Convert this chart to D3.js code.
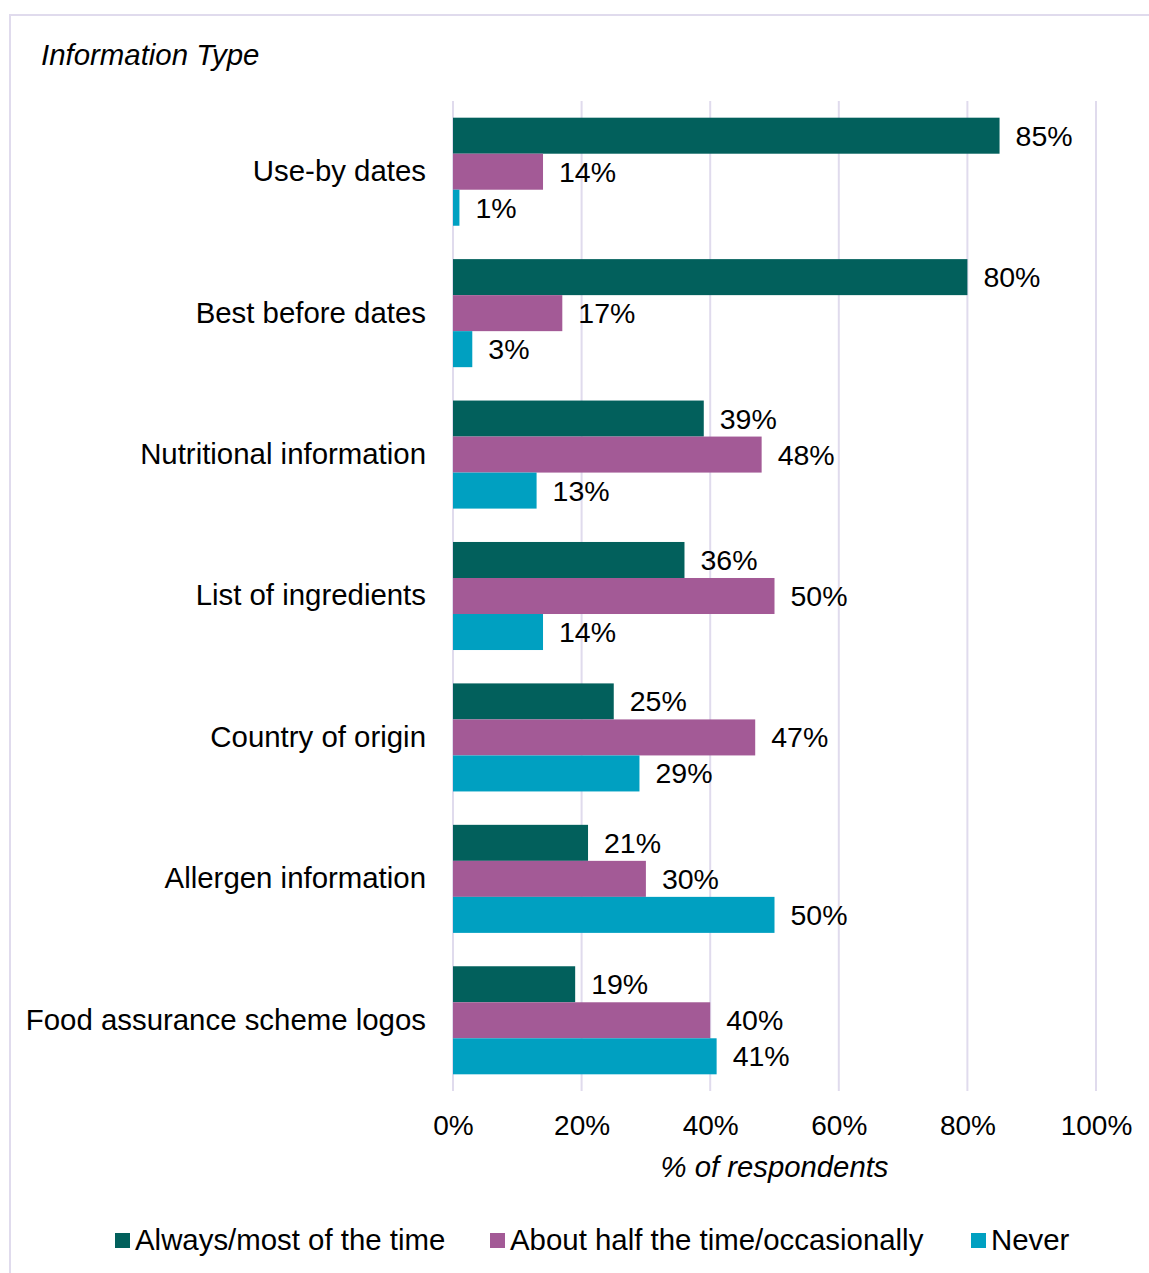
<!DOCTYPE html>
<html>
<head>
<meta charset="utf-8">
<script src="https://cdn.jsdelivr.net/npm/d3@7"></script>
<style>
  html, body { margin: 0; padding: 0; background: #fff; }
  svg { display: block; font-family: "Liberation Sans", Arial, sans-serif; }
</style>
</head>
<body>
<svg id="chart" width="1149" height="1273"></svg>
<script>
// Information types asked about
const categories = [
  "Use-by dates",
  "Best before dates",
  "Nutritional information",
  "List of ingredients",
  "Country of origin",
  "Allergen information",
  "Food assurance scheme logos"
];

// Series names and their values (% of respondents), one per category
const seriesNames = ["Always/most of the time", "About half the time/occasionally", "Never"];
const alwaysValues = [85, 80, 39, 36, 25, 21, 19];
const halfValues   = [14, 17, 48, 50, 47, 30, 40];
const neverValues  = [1, 3, 13, 14, 29, 50, 41];
const tickValues   = [0, 20, 40, 60, 80, 100];

const colors = ["#02605c", "#a35a96", "#00a0c1"];

const seriesValues = [alwaysValues, halfValues, neverValues];
const rows = categories.map((c, i) => ({
  category: c,
  values: seriesNames.map((s, j) => ({ key: s, value: seriesValues[j][i] }))
}));

const svg = d3.select("#chart");

// Outer chart frame
svg.append("rect")
  .attr("x", 10).attr("y", 15)
  .attr("width", 1160).attr("height", 1300)
  .attr("fill", "none")
  .attr("stroke", "#e0dbed")
  .attr("stroke-width", 2);

const plot = { left: 453, right: 1096, top: 101, bottom: 1091 };

const x = d3.scaleLinear().domain([0, 100]).range([plot.left, plot.right]);
const y = d3.scaleBand().domain(categories).range([plot.top, plot.bottom])
  .paddingInner(0.236).paddingOuter(0.118);
const ySub = d3.scaleBand().domain(seriesNames).range([0, y.bandwidth()]);

// Vertical gridlines
svg.append("g")
  .selectAll("line")
  .data(tickValues)
  .join("line")
  .attr("x1", d => x(d)).attr("x2", d => x(d))
  .attr("y1", plot.top).attr("y2", plot.bottom)
  .attr("stroke", "#e0dbed")
  .attr("stroke-width", 2);

// X axis tick labels
const xAxis = d3.axisBottom(x).tickValues(tickValues).tickFormat(d => d + "%").tickSize(0).tickPadding(0);
const gx = svg.append("g").attr("transform", `translate(0, ${plot.bottom + 34})`).call(xAxis);
gx.select(".domain").remove();
gx.selectAll("text")
  .attr("font-size", 28)
  .attr("font-family", "'Liberation Sans', Arial, sans-serif")
  .attr("fill", "#000")
  .attr("dy", "0.35em")
  .attr("y", 0);

// Category labels
const yAxis = d3.axisLeft(y).tickSize(0).tickPadding(27);
const gy = svg.append("g").attr("transform", `translate(${plot.left}, 0)`).call(yAxis);
gy.select(".domain").remove();
gy.selectAll("text")
  .attr("font-size", 29.4)
  .attr("font-family", "'Liberation Sans', Arial, sans-serif")
  .attr("fill", "#000");

// Bars and value labels
const groups = svg.append("g")
  .selectAll("g")
  .data(rows)
  .join("g")
  .attr("transform", d => `translate(0, ${y(d.category)})`);

groups.selectAll("rect")
  .data(d => d.values)
  .join("rect")
  .attr("x", x(0))
  .attr("y", d => ySub(d.key))
  .attr("width", d => x(d.value) - x(0))
  .attr("height", ySub.bandwidth())
  .attr("fill", (d, i) => colors[i]);

groups.selectAll("text")
  .data(d => d.values)
  .join("text")
  .attr("x", d => x(d.value) + 16)
  .attr("y", d => ySub(d.key) + ySub.bandwidth() / 2)
  .attr("dy", "0.35em")
  .attr("font-size", 28.5)
  .attr("fill", "#000")
  .text(d => d.value + "%");

// Titles
svg.append("text")
  .attr("x", 41).attr("y", 65)
  .attr("font-size", 29.4)
  .attr("font-style", "italic")
  .attr("fill", "#000")
  .text("Information Type");

svg.append("text")
  .attr("x", x(50)).attr("y", 1177)
  .attr("text-anchor", "middle")
  .attr("font-size", 29.3)
  .attr("font-style", "italic")
  .attr("fill", "#000")
  .text("% of respondents");

// Legend
const legendX = [115, 490, 971];
const legend = svg.append("g")
  .selectAll("g")
  .data(seriesNames)
  .join("g")
  .attr("transform", (d, i) => `translate(${legendX[i]}, 1240)`);

legend.append("rect")
  .attr("x", 0).attr("y", -7)
  .attr("width", 15).attr("height", 15)
  .attr("fill", (d, i) => colors[i]);

legend.append("text")
  .attr("x", 20).attr("y", 0)
  .attr("dy", "0.35em")
  .attr("font-size", 29.4)
  .attr("fill", "#000")
  .text(d => d);
</script>
</body>
</html>
